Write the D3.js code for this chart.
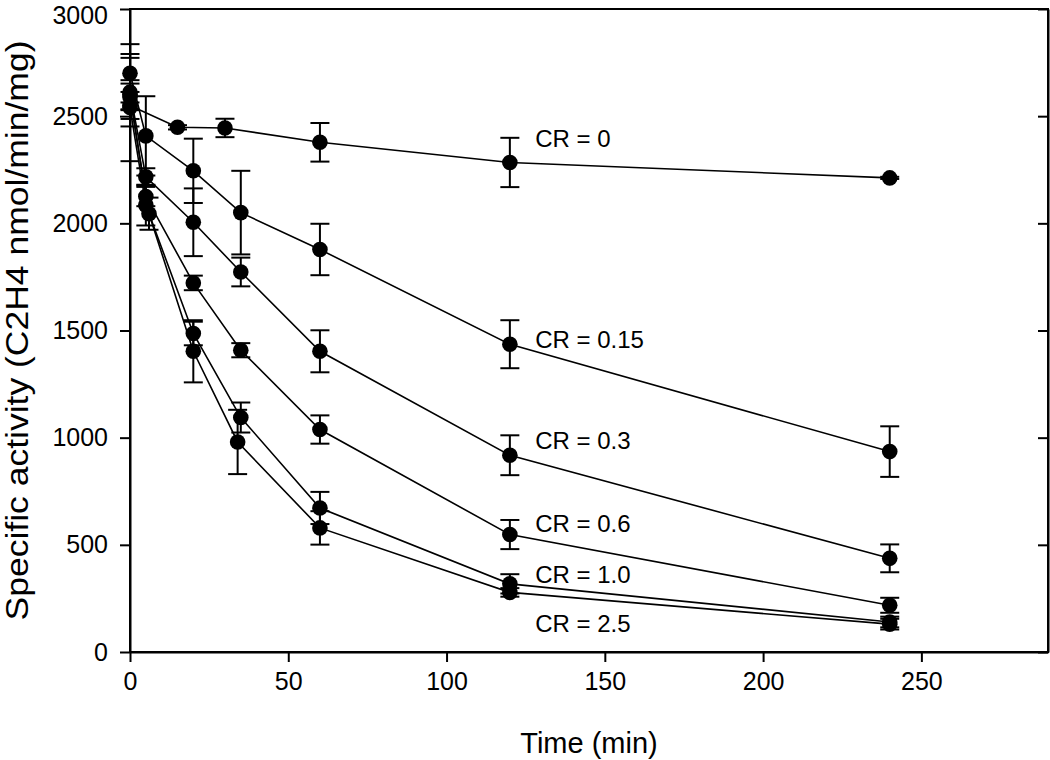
<!DOCTYPE html>
<html>
<head>
<meta charset="utf-8">
<script src="https://cdn.jsdelivr.net/npm/d3@7"></script>
<style>
  html, body { margin: 0; padding: 0; background: #fff; }
  svg { display: block; font-family: "Liberation Sans", Arial, sans-serif; }
</style>
</head>
<body>
<svg id="chart" width="1050" height="760"></svg>
<script>
// ---- data ----
const seriesNames = ["CR = 0", "CR = 0.15", "CR = 0.3", "CR = 0.6", "CR = 1.0", "CR = 2.5"];

const timesCR0   = [0, 15, 30, 60, 120, 240];
const timesCR015 = [0, 5, 20, 35, 60, 120, 240];
const timesCR03  = [0, 5, 20, 35, 60, 120, 240];
const timesCR06  = [0, 5, 20, 35, 60, 120, 240];
const timesCR10  = [0, 5, 20, 35, 60, 120, 240];
const timesCR25  = [0, 6, 20, 34, 60, 120, 240];

const valuesCR0   = [2550, 2448, 2445, 2378, 2284, 2212];
const valuesCR015 = [2700, 2408, 2245, 2050, 1878, 1436, 935];
const valuesCR03  = [2612, 2217, 2005, 1773, 1403, 918, 437];
const valuesCR06  = [2600, 2125, 1722, 1408, 1038, 548, 218];
const valuesCR10  = [2540, 2085, 1486, 1094, 672, 318, 140];
const valuesCR25  = [2590, 2045, 1403, 980, 579, 278, 130];

const errorsCR0   = [63, 10, 43, 90, 115, 5];
const errorsCR015 = [136, 185, 150, 195, 120, 112, 118];
const errorsCR03  = [160, 40, 158, 67, 98, 93, 65];
const errorsCR06  = [68, 45, 34, 33, 66, 68, 35];
const errorsCR10  = [250, 95, 55, 70, 75, 45, 25];
const errorsCR25  = [62, 75, 145, 150, 78, 20, 25];

// label anchors in data units (time, activity)
const labelTimes  = [128, 128, 128, 128, 128, 128];
const labelValues = [2357, 1417, 946, 558, 320, 92];

const xTicks = [0, 50, 100, 150, 200, 250];
const yTicks = [0, 500, 1000, 1500, 2000, 2500, 3000];

const xTitle = "Time (min)";
const yTitle = "Specific activity (C2H4 nmol/min/mg)";

// ---- build ----
const allTimes  = [timesCR0, timesCR015, timesCR03, timesCR06, timesCR10, timesCR25];
const allValues = [valuesCR0, valuesCR015, valuesCR03, valuesCR06, valuesCR10, valuesCR25];
const allErrors = [errorsCR0, errorsCR015, errorsCR03, errorsCR06, errorsCR10, errorsCR25];
const series = seriesNames.map((name, i) => ({
  name,
  points: allTimes[i].map((t, j) => ({ t, v: allValues[i][j], e: allErrors[i][j] }))
}));

const svg = d3.select("#chart");
const mLeft = 130, mRight = 1048, mTop = 9, mBottom = 652;

const x = d3.scaleLinear().domain([0, 290]).range([mLeft, mRight]);
const y = d3.scaleLinear().domain([0, 3000]).range([mBottom, mTop]);

// frame
svg.append("rect")
  .attr("x", mLeft).attr("y", mTop)
  .attr("width", mRight - mLeft).attr("height", mBottom - mTop)
  .attr("fill", "none").attr("stroke", "#000").attr("stroke-width", 2);

// axes
const fs = 25;
const gx = svg.append("g").attr("transform", `translate(0,${mBottom})`)
  .call(d3.axisBottom(x).tickValues(xTicks).tickFormat(d3.format("d")).tickSize(10).tickPadding(10).tickSizeOuter(0));
const gy = svg.append("g").attr("transform", `translate(${mLeft},0)`)
  .call(d3.axisLeft(y).tickValues(yTicks).tickFormat(d3.format("d")).tickSize(10).tickPadding(12).tickSizeOuter(0));
const gr = svg.append("g").attr("transform", `translate(${mRight},0)`)
  .call(d3.axisRight(y).tickValues(yTicks).tickSize(-10).tickFormat("").tickSizeOuter(0));
[gx, gy, gr].forEach(g => {
  g.select(".domain").attr("stroke-width", 2);
  g.selectAll(".tick line").attr("stroke-width", 2);
  g.selectAll("text").attr("font-size", fs).attr("font-family", "Liberation Sans, Arial, sans-serif").attr("fill", "#000");
});
// keep top label inside the picture
gy.selectAll(".tick text").filter(d => d === 3000).attr("y", 6);

// axis titles
svg.append("text")
  .attr("x", (mLeft + mRight) / 2).attr("y", 753)
  .attr("text-anchor", "middle").attr("font-size", 29).text(xTitle);
svg.append("text")
  .attr("transform", `translate(28,${(mTop + mBottom) / 2}) rotate(-90)`)
  .attr("text-anchor", "middle").attr("font-size", 31)
  .attr("textLength", 580).attr("lengthAdjust", "spacingAndGlyphs")
  .text(yTitle);

// lines
const line = d3.line().x(d => x(d.t)).y(d => y(d.v));
svg.append("g").selectAll("path").data(series).join("path")
  .attr("d", d => line(d.points))
  .attr("fill", "none").attr("stroke", "#000").attr("stroke-width", 1.6);

// error bars
const cap = 9.5;
const eg = svg.append("g").attr("stroke", "#000").attr("stroke-width", 2);
series.forEach(s => {
  s.points.forEach(p => {
    const cx = x(p.t), y1 = y(p.v + p.e), y2 = y(p.v - p.e);
    eg.append("line").attr("x1", cx).attr("x2", cx).attr("y1", y1).attr("y2", y2);
    eg.append("line").attr("x1", cx - cap).attr("x2", cx + cap).attr("y1", y1).attr("y2", y1);
    eg.append("line").attr("x1", cx - cap).attr("x2", cx + cap).attr("y1", y2).attr("y2", y2);
  });
});

// markers
svg.append("g").selectAll("g").data(series).join("g")
  .selectAll("circle").data(d => d.points).join("circle")
  .attr("cx", d => x(d.t)).attr("cy", d => y(d.v)).attr("r", 7.8).attr("fill", "#000");

// series labels
svg.append("g").selectAll("text").data(series).join("text")
  .attr("x", (d, i) => x(labelTimes[i]))
  .attr("y", (d, i) => y(labelValues[i]))
  .attr("font-size", 24).attr("fill", "#000")
  .text(d => d.name);
</script>
</body>
</html>
